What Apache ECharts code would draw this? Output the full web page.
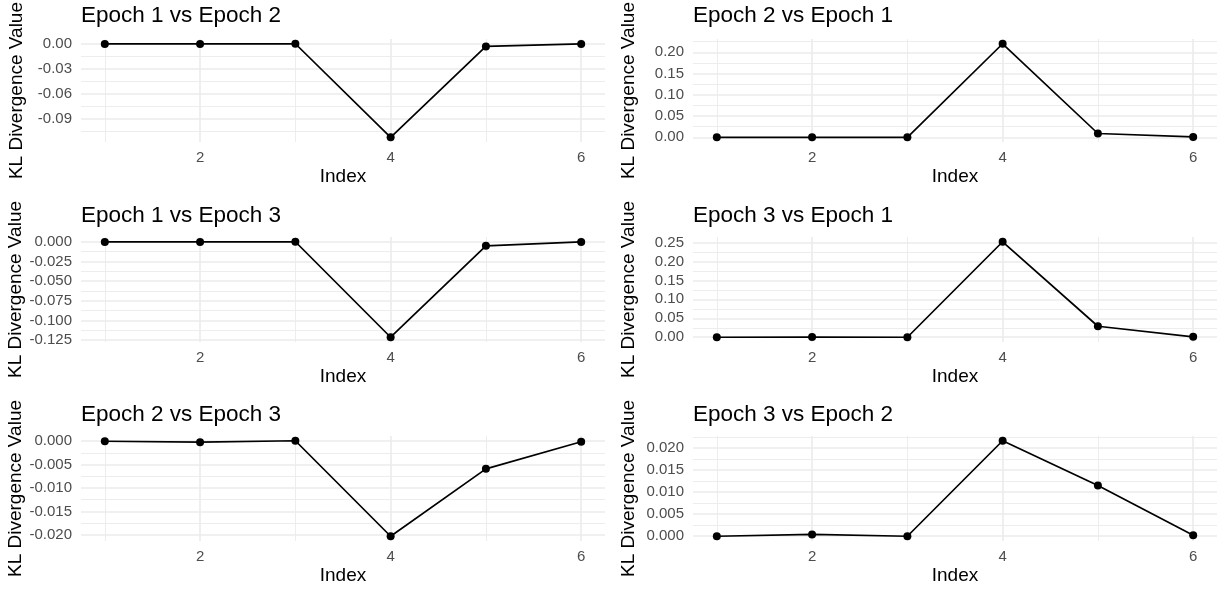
<!DOCTYPE html>
<html>
<head>
<meta charset="utf-8">
<script src="https://cdn.jsdelivr.net/npm/echarts@6/dist/echarts.min.js"></script>
<style>
  html, body { margin: 0; padding: 0; background: #fff; }
  #chart { width: 1225px; height: 592px; }
</style>
</head>
<body>
<div id="chart"></div>
<script>
// x axis: index of the comparison
const indexes = [1, 2, 3, 4, 5, 6];
const xMajor = [2, 4, 6];
const xMinor = [1, 3, 5];

// panel titles, row by row (left, right)
const titles = [
  'Epoch 1 vs Epoch 2', 'Epoch 2 vs Epoch 1',
  'Epoch 1 vs Epoch 3', 'Epoch 3 vs Epoch 1',
  'Epoch 2 vs Epoch 3', 'Epoch 3 vs Epoch 2'
];

// KL divergence values
const kl12 = [0, 0, 0.0002, -0.112, -0.003, 0];
const kl21 = [0, 0, 0, 0.22, 0.009, 0.001];
const kl13 = [0, 0, 0.0002, -0.1215, -0.005, 0];
const kl31 = [0, 0.0005, 0, 0.252, 0.029, 0.001];
const kl23 = [0, -0.0002, 0.0001, -0.0203, -0.0059, -0.0001];
const kl32 = [0, 0.0004, 0, 0.0216, 0.0115, 0.0002];

// y tick labels (major) and minor grid positions per panel
const yMajor12 = [-0.09, -0.06, -0.03, 0];
const yMinor12 = [-0.105, -0.075, -0.045, -0.015];
const yMajor21 = [0, 0.05, 0.1, 0.15, 0.2];
const yMinor21 = [0.025, 0.075, 0.125, 0.175, 0.225];
const yMajor13 = [-0.125, -0.1, -0.075, -0.05, -0.025, 0];
const yMinor13 = [-0.1125, -0.0875, -0.0625, -0.0375, -0.0125];
const yMajor31 = [0, 0.05, 0.1, 0.15, 0.2, 0.25];
const yMinor31 = [0.025, 0.075, 0.125, 0.175, 0.225];
const yMajor23 = [-0.02, -0.015, -0.01, -0.005, 0];
const yMinor23 = [-0.0175, -0.0125, -0.0075, -0.0025];
const yMajor32 = [0, 0.005, 0.01, 0.015, 0.02];
const yMinor32 = [0.0025, 0.0075, 0.0125, 0.0175, 0.0225];

const panels = [
  { values: kl12, major: yMajor12, minor: yMinor12, digits: 2 },
  { values: kl21, major: yMajor21, minor: yMinor21, digits: 2 },
  { values: kl13, major: yMajor13, minor: yMinor13, digits: 3 },
  { values: kl31, major: yMajor31, minor: yMinor31, digits: 2 },
  { values: kl23, major: yMajor23, minor: yMinor23, digits: 3 },
  { values: kl32, major: yMajor32, minor: yMinor32, digits: 3 }
];

const FONT = '"Liberation Sans", Arial, sans-serif';
const gridColor = '#ebebeb';
const colLeft = [81, 693];
const rowTop = [37, 237, 436];
const plotW = 524;
const plotH = 105;

const option = {
  animation: false,
  backgroundColor: '#fff',
  textStyle: { fontFamily: FONT },
  title: [],
  grid: [],
  xAxis: [],
  yAxis: [],
  series: []
};

panels.forEach((p, i) => {
  const left = colLeft[i % 2];
  const top = rowTop[Math.floor(i / 2)];
  // ggplot style 5% expansion of the data range
  const lo = Math.min(...p.values), hi = Math.max(...p.values);
  const pad = (hi - lo) * 0.05;
  const yMin = lo - pad, yMax = hi + pad;

  option.title.push({
    text: titles[i],
    left: left,
    top: top - 33,
    padding: 0,
    textStyle: { fontSize: 22.5, fontWeight: 'normal', color: '#000', fontFamily: FONT }
  });
  option.grid.push({ left: left, top: top, width: plotW, height: plotH });

  // major x axis with labels
  option.xAxis.push({
    type: 'value', gridIndex: i, position: 'bottom',
    min: 0.75, max: 6.25,
    name: 'Index', nameLocation: 'middle', nameGap: 25,
    nameTextStyle: { fontSize: 19, color: '#000', fontFamily: FONT },
    axisLine: { show: false },
    axisTick: { show: false, customValues: xMajor },
    axisLabel: { customValues: xMajor, margin: 8, fontSize: 15, color: '#4d4d4d', fontFamily: FONT },
    splitLine: { show: true, lineStyle: { color: gridColor, width: 1.6 } }
  });
  // minor x grid
  option.xAxis.push({
    type: 'value', gridIndex: i, position: 'top',
    min: 0.75, max: 6.25,
    axisLine: { show: false },
    axisTick: { show: false, customValues: xMinor },
    axisLabel: { show: false },
    splitLine: { show: true, lineStyle: { color: gridColor, width: 0.9 } }
  });
  // major y axis with labels
  option.yAxis.push({
    type: 'value', gridIndex: i, position: 'left',
    min: yMin, max: yMax,
    name: 'KL Divergence Value', nameLocation: 'middle', nameGap: 55,
    nameTextStyle: { fontSize: 19, color: '#000', fontFamily: FONT },
    axisLine: { show: false },
    axisTick: { show: false, customValues: p.major },
    axisLabel: {
      customValues: p.major, margin: 9, fontSize: 15, color: '#4d4d4d', fontFamily: FONT,
      formatter: v => Number(v).toFixed(p.digits)
    },
    splitLine: { show: true, lineStyle: { color: gridColor, width: 1.6 } }
  });
  // minor y grid
  option.yAxis.push({
    type: 'value', gridIndex: i, position: 'right',
    min: yMin, max: yMax,
    axisLine: { show: false },
    axisTick: { show: false, customValues: p.minor },
    axisLabel: { show: false },
    splitLine: { show: true, lineStyle: { color: gridColor, width: 0.9 } }
  });

  option.series.push({
    type: 'line',
    xAxisIndex: i * 2,
    yAxisIndex: i * 2,
    data: indexes.map((x, k) => [x, p.values[k]]),
    symbol: 'circle',
    symbolSize: 8,
    lineStyle: { color: '#000', width: 1.7 },
    itemStyle: { color: '#000' },
    z: 5
  });
});

const chart = echarts.init(document.getElementById('chart'), null, { renderer: 'canvas' });
chart.setOption(option);
</script>
</body>
</html>
